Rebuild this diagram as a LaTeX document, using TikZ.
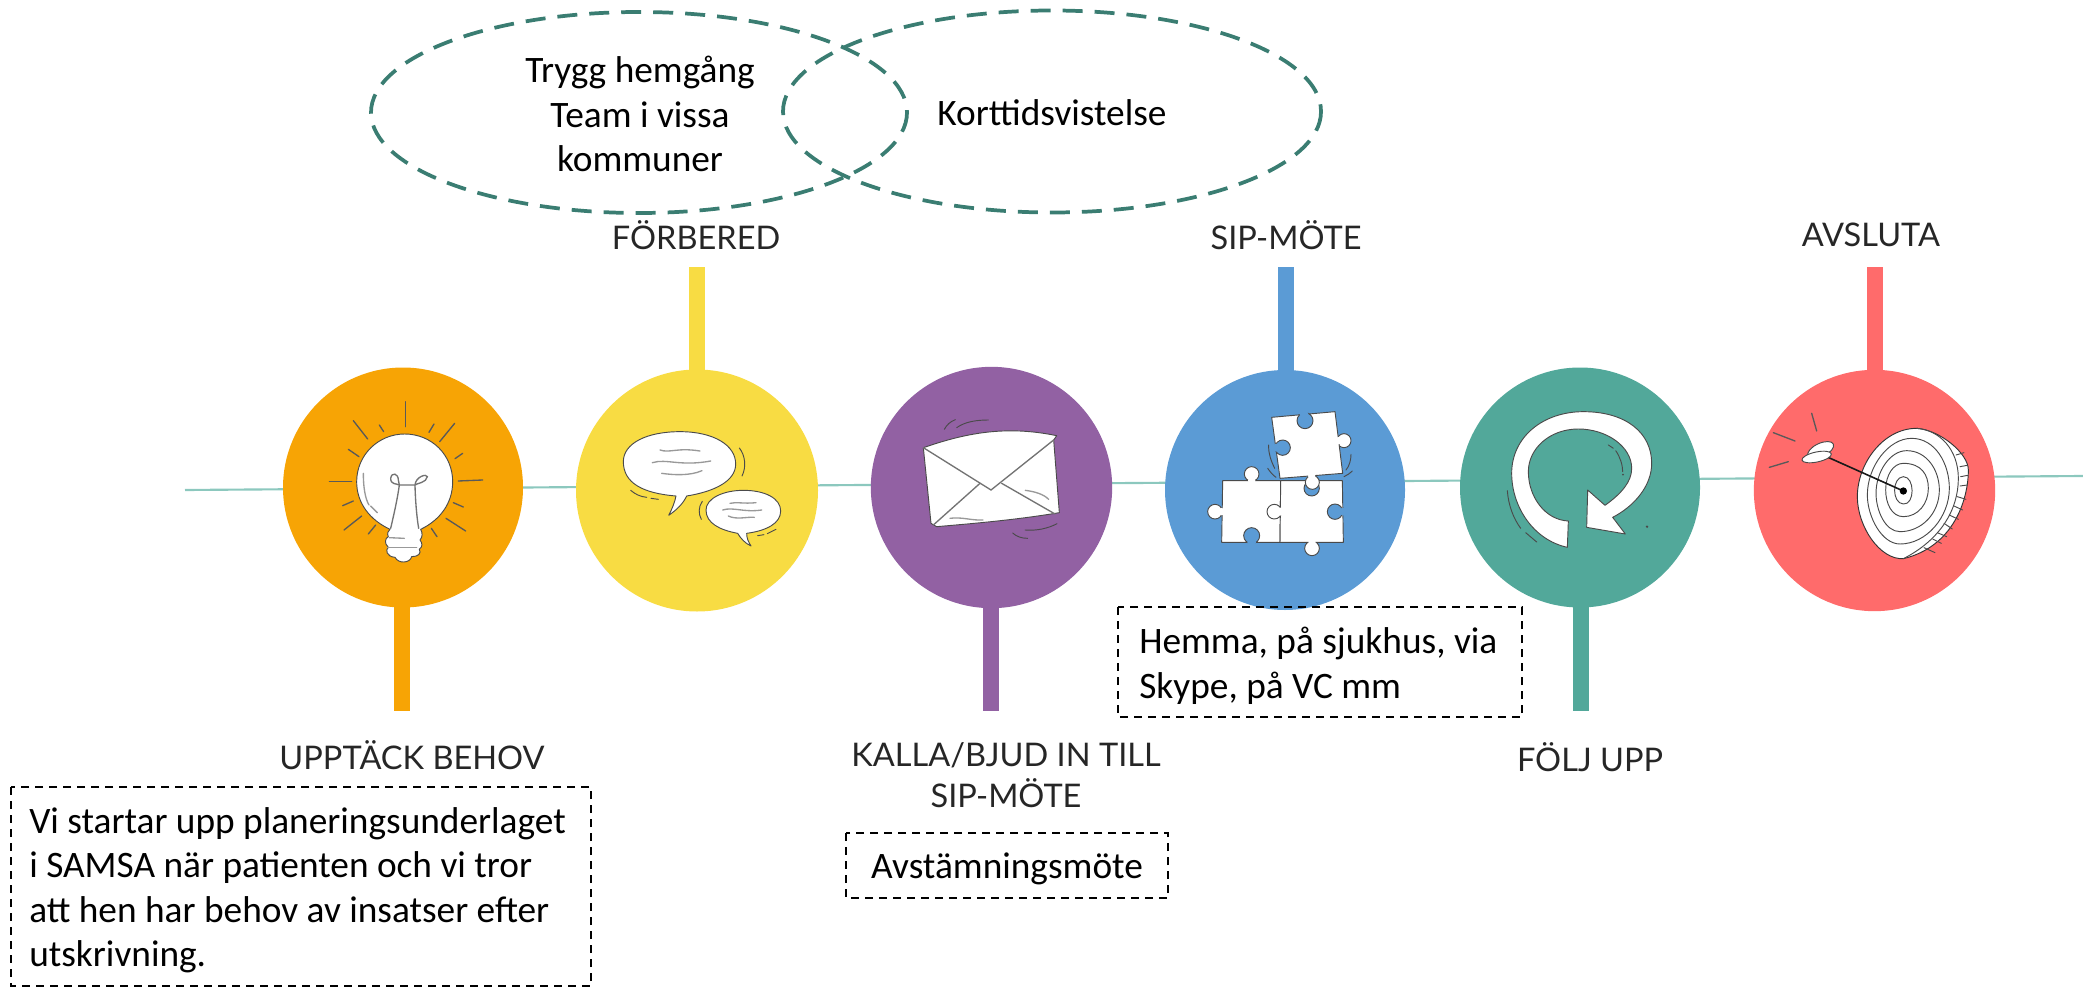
\documentclass[tikz,border=0pt]{standalone}
\usepackage{fontspec}
\setmainfont{Carlito}
\newfontfamily\headfont{Lato}
\definecolor{cOrange}{HTML}{F7A405}
\definecolor{cYellow}{HTML}{F8DC43}
\definecolor{cPurple}{HTML}{9261A3}
\definecolor{cBlue}{HTML}{5B9BD5}
\definecolor{cGreen}{HTML}{52A89A}
\definecolor{cRed}{HTML}{FF6B6B}
\definecolor{cLine}{HTML}{8CC8BE}
\definecolor{cEll}{HTML}{3A7D72}
\definecolor{cInk}{HTML}{4A4A4A}
\tikzset{
  disc/.style={circle,minimum size=#1,inner sep=0pt,outer sep=0pt},
  stemline/.style={line width=12pt},
  head/.style={font=\headfont\fontsize{24.4}{30.7}\selectfont,align=center,text=black!85,inner sep=0pt},
  note/.style={draw=black,line width=1pt,dash pattern=on 6pt off 4.5pt,inner sep=0pt},
  body/.style={font=\fontsize{28}{33.4}\selectfont,align=left,inner sep=0pt,text=black},
  ell/.style={draw=cEll,line width=2.8pt,dash pattern=on 15pt off 9pt},
  ink/.style={draw=cInk,line width=0.7pt,line cap=round},
  rayl/.style={draw=black!65,line width=1pt,line cap=round},
  soft/.style={draw=black!40,line width=1pt,line cap=round},
  wshape/.style={fill=white,draw=cInk,line width=0.7pt,line join=round}
}
\begin{document}
\begin{tikzpicture}[x=0.75pt,y=-0.75pt]
\useasboundingbox (0,0) rectangle (2083,987);
% time line
\coordinate (tlA) at (185,490);
\coordinate (tlB) at (2083,476);
\draw[cLine,line width=1.6pt] (tlA) -- (tlB);
% discs
\node[disc=180pt,fill=cOrange] (c1) at (403,487.5) {};
\node[disc=181.5pt,fill=cYellow] (c2) at (697,490.5) {};
\node[disc=181pt,fill=cPurple] (c3) at (991.5,487.5) {};
\node[disc=180pt,fill=cBlue] (c4) at (1285,490) {};
\node[disc=180pt,fill=cGreen] (c5) at (1580,487.5) {};
\node[disc=181pt,fill=cRed] (c6) at (1874.5,490.5) {};
% stems ends
\coordinate (s1) at (402,711);
\coordinate (s2) at (697,267);
\coordinate (s3) at (991,711);
\coordinate (s4) at (1286,267);
\coordinate (s5) at (1581,711);
\coordinate (s6) at (1875,267);
\draw[stemline,cOrange] (402,490) -- (s1);
\draw[stemline,cYellow] (697,490) -- (s2);
\draw[stemline,cPurple] (991,490) -- (s3);
\draw[stemline,cBlue] (1286,490) -- (s4);
\draw[stemline,cGreen] (1581,490) -- (s5);
\draw[stemline,cRed] (1875,490) -- (s6);
% ellipses
\draw[ell] (639,112.5) ellipse [x radius=268,y radius=100.5];
\draw[ell] (1052,111.5) ellipse [x radius=269,y radius=101];
\node[body,align=center] (ta) at (640,72) {Trygg hemgång};
\node[body,align=center] (tb) at (640,115) {Team i vissa};
\node[body,align=center] (tc) at (640,159) {kommuner};
\node[body] (td) at (1052,113) {Korttidsvistelse};
% headings
\node[head] (h1) at (412,755) {UPPTÄCK BEHOV};
\node[head] (h2) at (696,235) {FÖRBERED};
\node[head] (h3) at (1006,775) {KALLA/BJUD IN TILL\\SIP-MÖTE};
\node[head] (h4) at (1286,235) {SIP-MÖTE};
\node[head] (h5) at (1590,757) {FÖLJ UPP};
\node[head] (h6) at (1871,235) {AVSLUTA};
% dashed notes
\draw[note] (11,787) rectangle (591,986);
\node[body,anchor=north west] (n1) at (29,807) {Vi startar upp planeringsunderlaget\\i SAMSA när patienten och vi tror\\att hen har behov av insatser efter\\utskrivning.};
\draw[note] (846,833) rectangle (1168,898);
\node[body] (n2) at (1007,869) {Avstämningsmöte};
\draw[note] (1118,607) rectangle (1522,717);
\node[body,anchor=north west] (n3) at (1139,627) {Hemma, på sjukhus, via\\Skype, på VC mm};
% ---- bulb
\begin{scope}[shift={(270,360)},x=0.25pt,y=-0.25pt]
\draw[wshape] (360,508) .. controls (300,480) and (260,430) .. (260,365) .. controls (260,285) and (325,222) .. (404,222) .. controls (485,222) and (548,285) .. (548,365) .. controls (548,430) and (510,480) .. (452,508) .. controls (458,520) and (458,530) .. (450,540) .. controls (458,550) and (458,560) .. (448,568) .. controls (455,580) and (445,590) .. (425,590) .. controls (420,610) and (385,612) .. (375,592) .. controls (350,590) and (345,570) .. (355,562) .. controls (342,550) and (345,535) .. (355,530) .. controls (350,520) and (355,512) .. (360,508) -- cycle;
\draw[soft,draw=black!55] (362,505) .. controls (370,470) and (382,420) .. (388,375) .. controls (380,370) and (362,375) .. (362,355) .. controls (365,335) and (385,340) .. (385,360) -- (388,375) -- (435,375) .. controls (437,350) and (470,340) .. (472,350) .. controls (470,368) and (440,370) .. (435,375) .. controls (436,420) and (440,470) .. (446,505);
\draw[soft] (280,340) .. controls (280,380) and (285,415) .. (297,435);
\draw[soft] (302,438) -- (322,458);
\draw[soft] (358,533) -- (403,535);
\draw[soft] (352,562) -- (440,562);
\foreach \a/\b/\c/\d in {407/125/407/200,250/182/293/237,328/195/341/215,492/192/477/217,554/190/509/245,235/268/267/290,578/280/555/296,178/365/245/365,565/363/638/360,218/437/250/423,550/428/580/441,222/510/275/468,295/522/317/495,484/505/501/530,528/475/587/513}
  \draw[rayl] (\a,\b) -- (\c,\d);
\end{scope}
% ---- speech bubbles
\begin{scope}[shift={(570,360)},x=0.25pt,y=-0.25pt]
\draw[wshape] (318,408) .. controls (220,400) and (160,370) .. (160,305) .. controls (160,250) and (230,215) .. (330,215) .. controls (430,215) and (497,255) .. (497,312) .. controls (497,365) and (430,395) .. (350,408) .. controls (340,430) and (320,450) .. (296,466) .. controls (305,450) and (315,425) .. (318,408) -- cycle;
\draw[wshape] (503,520) .. controls (450,510) and (408,490) .. (408,450) .. controls (408,415) and (460,391) .. (520,391) .. controls (585,391) and (632,415) .. (632,453) .. controls (632,490) and (590,512) .. (530,520) .. controls (530,535) and (535,545) .. (543,558) .. controls (525,550) and (512,535) .. (503,520) -- cycle;
\draw[soft] (270,270) .. controls (300,280) and (320,262) .. (390,273);
\draw[soft] (247,308) .. controls (290,295) and (330,320) .. (422,303);
\draw[soft] (275,340) .. controls (310,345) and (360,348) .. (396,332);
\draw[soft] (480,430) .. controls (500,425) and (520,432) .. (558,428);
\draw[soft] (458,450) .. controls (490,440) and (520,458) .. (575,450);
\draw[soft] (475,468) .. controls (500,480) and (530,470) .. (553,472);
\draw[ink] (508,264) .. controls (525,285) and (530,320) .. (516,348);
\draw[ink] (182,391) .. controls (195,402) and (210,410) .. (230,412);
\draw[ink] (243,415) -- (265,418);
\draw[ink] (397,424) .. controls (385,440) and (385,462) .. (394,478);
\draw[ink] (563,527) -- (582,524);
\draw[ink] (592,521) -- (618,508);
\end{scope}
% ---- envelope
\begin{scope}[shift={(865,360)},x=0.25pt,y=-0.25pt]
\draw[wshape] (175,263) .. controls (300,220) and (420,195) .. (575,227) -- (566,240) -- (583,458) .. controls (450,480) and (330,490) .. (215,500) -- (198,490) -- cycle;
\draw[soft,draw=black!55] (175,263) -- (378,390) -- (566,240);
\draw[soft,draw=black!55] (205,495) -- (345,370);
\draw[soft,draw=black!55] (410,370) -- (570,462);
\draw[soft] (481,391) .. controls (510,395) and (535,402) .. (551,418);
\draw[soft] (255,475) .. controls (290,470) and (320,482) .. (354,480);
\draw[ink] (238,208) .. controls (245,195) and (255,185) .. (271,179);
\draw[ink] (275,203) .. controls (300,185) and (335,180) .. (370,180);
\draw[ink] (480,510) .. controls (515,513) and (550,505) .. (576,491);
\draw[ink] (443,519) .. controls (455,530) and (470,535) .. (488,535);
\end{scope}
% ---- puzzle
\begin{scope}[shift={(1160,360)},x=0.25pt,y=-0.25pt]
% bottom left piece
\draw[wshape] (275,342) circle [radius=22];
\draw[wshape] (165,455) circle [radius=22];
\draw[wshape] (188,362) -- (362,362) -- (360,547) -- (185,547) -- cycle;
\fill[white] (275,362) circle [radius=11];
\fill[white] (185,455) circle [radius=11];
\draw[wshape,fill=cBlue] (275,527) circle [radius=24];
\fill[cBlue] (275,547) circle [radius=13];
% bottom right piece
\draw[wshape] (456,565) circle [radius=22];
\draw[wshape] (362,362) -- (547,362) -- (550,547) -- (360,547) -- cycle;
\fill[white] (456,547) circle [radius=11];
\draw[wshape,fill=cBlue] (455,385) circle [radius=23];
\draw[wshape,fill=cBlue] (525,455) circle [radius=23];
\fill[cBlue] (549,455) circle [radius=12];
\draw[wshape] (343,455) circle [radius=22];
\fill[white] (362,455) circle [radius=12];
% top piece
\draw[wshape] (552,242) circle [radius=21];
\draw[wshape] (335,172) -- (525,155) -- (548,340) -- (360,355) -- cycle;
\fill[white] (535,242) circle [radius=11];
\draw[wshape,fill=cBlue] (435,182) circle [radius=24];
\fill[cBlue] (432,162) circle [radius=13];
\draw[wshape,fill=cBlue] (368,263) circle [radius=23];
\fill[cBlue] (349,263) circle [radius=12];
\draw[wshape] (457,367) circle [radius=21];
\fill[white] (455,348) circle [radius=11];
\draw[ink] (326,255) .. controls (325,280) and (332,300) .. (344,325);
\draw[ink] (323,325) .. controls (330,335) and (338,345) .. (348,352);
\draw[ink] (573,283) .. controls (573,300) and (568,318) .. (558,330);
\draw[ink] (577,333) .. controls (570,340) and (562,345) .. (552,350);
\end{scope}
% ---- circular arrow
\begin{scope}[shift={(1450,360)},x=0.25pt,y=-0.25pt]
\draw[wshape] (352,562) .. controls (250,540) and (185,440) .. (185,340) .. controls (185,230) and (280,155) .. (400,155) .. controls (530,155) and (605,220) .. (605,310) .. controls (605,380) and (550,440) .. (488,472) -- (526,522) -- (410,502) -- (413,390) -- (465,436) .. controls (515,400) and (545,365) .. (545,325) .. controls (545,260) and (470,207) .. (385,207) .. controls (300,207) and (235,265) .. (235,335) .. controls (235,410) and (285,480) .. (355,483) -- cycle;
\draw[ink] (172,392) .. controls (175,435) and (190,475) .. (212,505);
\draw[ink] (227,518) -- (260,546);
\draw[ink] (475,255) -- (490,265);
\draw[ink] (497,272) .. controls (510,290) and (518,315) .. (518,335);
\fill[cInk] (519,344) circle [radius=3];
\fill[cInk] (591,500) circle [radius=4];
\end{scope}
% ---- target
\begin{scope}[shift={(1740,360)},x=0.25pt,y=-0.25pt]
\draw[wshape,draw=black!80] (530,205) .. controls (600,210) and (685,280) .. (685,330) .. controls (685,420) and (640,560) .. (490,596) .. controls (420,600) and (352,500) .. (352,410) .. controls (352,310) and (430,205) .. (530,205) -- cycle;
\draw[ink] (530,205) .. controls (600,210) and (655,270) .. (655,355) .. controls (655,450) and (600,540) .. (490,596);
\foreach \a/\b/\c/\d in {648/285/672/278,660/320/682/316,662/350/683/346,660/378/682/375,652/410/678/418,642/438/668/450,628/465/655/478,612/490/637/507,592/518/620/530,578/537/604/550,552/563/585/578}
  \draw[ink] (\a,\b) -- (\c,\d);
\draw[ink] (490,350) .. controls (525,350) and (525,435) .. (490,432) .. controls (455,430) and (455,352) .. (490,350) -- cycle;
\draw[ink] (490,310) .. controls (545,310) and (565,345) .. (565,385) .. controls (565,430) and (535,470) .. (490,470) .. controls (455,470) and (437,430) .. (437,390) .. controls (437,345) and (460,310) .. (490,310) -- cycle;
\draw[ink] (500,272) .. controls (560,272) and (598,330) .. (598,390) .. controls (598,460) and (545,515) .. (480,515) .. controls (435,515) and (408,450) .. (408,400) .. controls (408,335) and (450,272) .. (500,272) -- cycle;
\draw[ink] (515,235) .. controls (585,235) and (628,310) .. (628,385) .. controls (628,470) and (560,552) .. (480,552) .. controls (425,552) and (382,470) .. (382,405) .. controls (382,320) and (445,235) .. (515,235) -- cycle;
\draw[black!90,line width=1.2pt] (215,270) -- (490,393);
\fill[black] (490,393) circle [radius=11];
\draw[wshape,rotate around={25:(242,270)}] (242,270) ellipse [x radius=42,y radius=20];
\draw[wshape,rotate around={12:(230,291)}] (230,291) ellipse [x radius=45,y radius=15];
\draw[rayl] (215,160) -- (230,213);
\draw[rayl] (100,218) -- (165,243);
\draw[rayl] (88,322) -- (145,305);
\end{scope}
\end{tikzpicture}
\end{document}
